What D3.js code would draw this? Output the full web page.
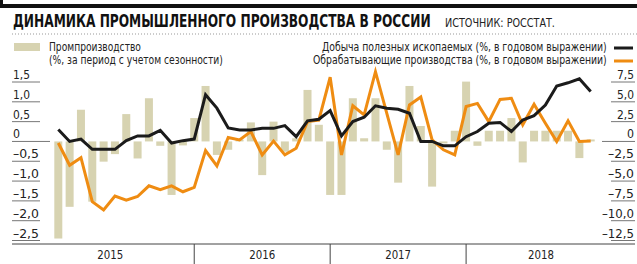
<!DOCTYPE html>
<html>
<head>
<meta charset="utf-8">
<script src="https://cdn.jsdelivr.net/npm/d3@7"></script>
<style>
  body { margin: 0; background: #fff; }
  svg text { font-family: 'Liberation Sans Narrow', 'DejaVu Sans Condensed', sans-serif; }
</style>
</head>
<body>
<svg id="chart"></svg>
<script>
const years = ['2015', '2016', '2017', '2018'];
const months = d3.range(48);

// промпроизводство, % м/м с учетом сезонности (левая шкала)
const industry = [
  -2.45, -1.65, 0.8, -1.52, -0.51, -0.32, 0.69, -0.43, 1.09, -0.11, -1.35, -0.1,
  0.59, 1.4, -0.34, -0.21, 0.05, 0.48, -0.85, 0.5, -0.26, 0.08, 1.3, 0.42,
  -1.35, -1.35, 1.09, 0.08, 1.09, -0.21, -1.04, 1.4, 0.39, -1.14, -0.05, 0.27,
  1.51, -0.11, 0.27, 0.27, 0.59, -0.53, 0.27, 0.27, 0.27, 0.27, -0.42, 0.05,
];
// добыча полезных ископаемых, % г/г (правая шкала)
const mining = [
  1.5, 0, 0.3, -1.0, -1.0, -1.0, 0.1, 0.7, 0.7, 1.4, -0.2, 0.1,
  0.3, 5.9, 4.2, 1.7, 1.45, 1.45, 1.65, 1.65, 2.0, 0.6, 2.6, 2.8,
  3.9, 0.7, 2.5, 3.05, 4.5, 4.2, 4.05, 3.55, 0, 0, -0.55, -0.55,
  0.6, 1.25, 2.3, 2.4, 1.25, 2.7, 3.25, 4.6, 7.0, 7.4, 7.9, 6.3,
];
// обрабатывающие производства, % г/г (правая шкала)
const manufacturing = [
  -0.2, -3.0, -2.05, -7.6, -8.65, -6.9, -7.4, -6.95, -5.6, -6.1, -5.6, -6.35,
  -5.8, -1.15, -3.1, 0.5, 0.2, 1.25, -1.7, 0.05, -1.7, -0.85, 2.5, 2.7,
  8.1, -1.7, 4.5, 3.35, 8.8, 3.55, -1.7, 4.6, 5.6, 0.2, -1.05, -1.7,
  4.4, 4.8, 2.5, 5.3, 5.45, 2.1, 4.7, 2.3, 0, 2.6, 0, 0.05,
];
const leftTicks = [1.5, 1, 0.5, 0, -0.5, -1, -1.5, -2, -2.5];
const rightTicks = [7.5, 5, 2.5, 0, -2.5, -5, -7.5, -10, -12.5];

const W = 637, H = 264;
const barColor = '#d7d3b1';
const blackColor = '#1b1b1b';
const orangeColor = '#ef8c12';

const svg = d3.select('#chart').attr('width', W).attr('height', H);

const x = d3.scalePoint().domain(months).range([58.3, 590.7]);
const yL = d3.scaleLinear().domain([-2.5, 1.5]).range([240.5, 82]);
const yR = d3.scaleLinear().domain([-12.5, 7.5]).range([240.5, 82]);
const fmt = (v) => (v < 0 ? '\u2013' : '') + (v === 0 ? '0' : d3.format('.1f')(Math.abs(v)).replace('.', ','));

// узкий текст: сжимаем по горизонтали до нужной ширины
function label(g, txt, xx, yy, size, width, anchor, weight) {
  const t = g.append('text').attr('font-size', size).attr('fill', '#222')
    .attr('font-weight', weight || 'normal').text(txt);
  const w = t.node().getComputedTextLength();
  const left = anchor === 'end' ? xx - width : anchor === 'middle' ? xx - width / 2 : xx;
  t.attr('transform', `translate(${left},${yy}) scale(${width / w},1)`);
  return t;
}

// шапка
svg.append('rect').attr('x', 0).attr('y', 4).attr('width', W).attr('height', 4).attr('fill', '#111');
svg.append('rect').attr('x', 0).attr('y', 0).attr('width', 3).attr('height', 8).attr('fill', '#111');
label(svg, 'ДИНАМИКА ПРОМЫШЛЕННОГО ПРОИЗВОДСТВА В РОССИИ', 13, 27, 17, 418, 'start', 'bold')
  .attr('fill', '#111');
label(svg, 'ИСТОЧНИК: РОССТАТ.', 445, 27, 11.5, 110);
svg.append('line').attr('x1', 12).attr('x2', W).attr('y1', 34).attr('y2', 34)
  .attr('stroke', '#999').attr('stroke-dasharray', '1,2');

// легенда
svg.append('rect').attr('x', 14).attr('y', 43).attr('width', 26).attr('height', 8).attr('fill', barColor);
label(svg, 'Промпроизводство', 49, 51, 11.5, 92);
label(svg, '(%, за период с учетом сезонности)', 49, 64, 11.5, 174);
label(svg, 'Добыча полезных ископаемых (%, в годовом выражении)', 607, 51, 11.5, 285, 'end');
label(svg, 'Обрабатывающие производства (%, в годовом выражении)', 607, 64, 11.5, 294, 'end');
svg.append('line').attr('x1', 614).attr('x2', 633).attr('y1', 48).attr('y2', 48).attr('stroke', blackColor).attr('stroke-width', 3);
svg.append('line').attr('x1', 614).attr('x2', 633).attr('y1', 61).attr('y2', 61).attr('stroke', orangeColor).attr('stroke-width', 3);

// оси
const tickW = (d) => (d === 0 ? 7 : d <= -10 ? 32 : d < 0 ? 26 : 17);
const leftAxis = svg.append('g');
leftAxis.selectAll('line').data(leftTicks).join('line')
  .attr('x1', 12).attr('x2', (d) => (d === 0 ? 50 : 40))
  .attr('y1', (d) => yL(d)).attr('y2', (d) => yL(d))
  .attr('stroke', '#777').attr('stroke-width', 1);
leftTicks.forEach((d) => label(leftAxis, fmt(d), 13, yL(d) - 3, 12.5, tickW(d)));

const rightAxis = svg.append('g');
rightAxis.selectAll('line').data(rightTicks).join('line')
  .attr('x1', (d) => (d === 0 ? 602 : 611)).attr('x2', 635)
  .attr('y1', (d) => yR(d)).attr('y2', (d) => yR(d))
  .attr('stroke', '#777').attr('stroke-width', 1);
rightTicks.forEach((d) => label(rightAxis, fmt(d), 634, yR(d) - 3, 12.5, tickW(d), 'end'));

// столбики
svg.append('g').selectAll('rect').data(industry).join('rect')
  .attr('x', (d, i) => x(i) - 4)
  .attr('width', 8)
  .attr('y', (d) => yL(Math.max(0, d)))
  .attr('height', (d) => Math.abs(yL(d) - yL(0)))
  .attr('fill', barColor);

// линии
const line = d3.line().x((d, i) => x(i)).y((d) => yR(d));
svg.append('path').datum(manufacturing).attr('d', line)
  .attr('fill', 'none').attr('stroke', orangeColor).attr('stroke-width', 3).attr('stroke-linejoin', 'miter');
svg.append('path').datum(mining).attr('d', line)
  .attr('fill', 'none').attr('stroke', blackColor).attr('stroke-width', 3).attr('stroke-linejoin', 'miter');

// ось времени
svg.append('line').attr('x1', 12).attr('x2', 635).attr('y1', 244).attr('y2', 244).attr('stroke', '#444');
const sep = [12, 24, 36];
svg.append('g').selectAll('line').data(sep).join('line')
  .attr('x1', (d) => x(d)).attr('x2', (d) => x(d))
  .attr('y1', 244).attr('y2', 264).attr('stroke', '#444');
const yearEdges = [x(0) - 32, x(12), x(24), x(36), x(47) + 25];
const yearAxis = svg.append('g');
years.forEach((d, i) => label(yearAxis, d, (yearEdges[i] + yearEdges[i + 1]) / 2, 259, 12.5, 26, 'middle'));
</script>
</body>
</html>
